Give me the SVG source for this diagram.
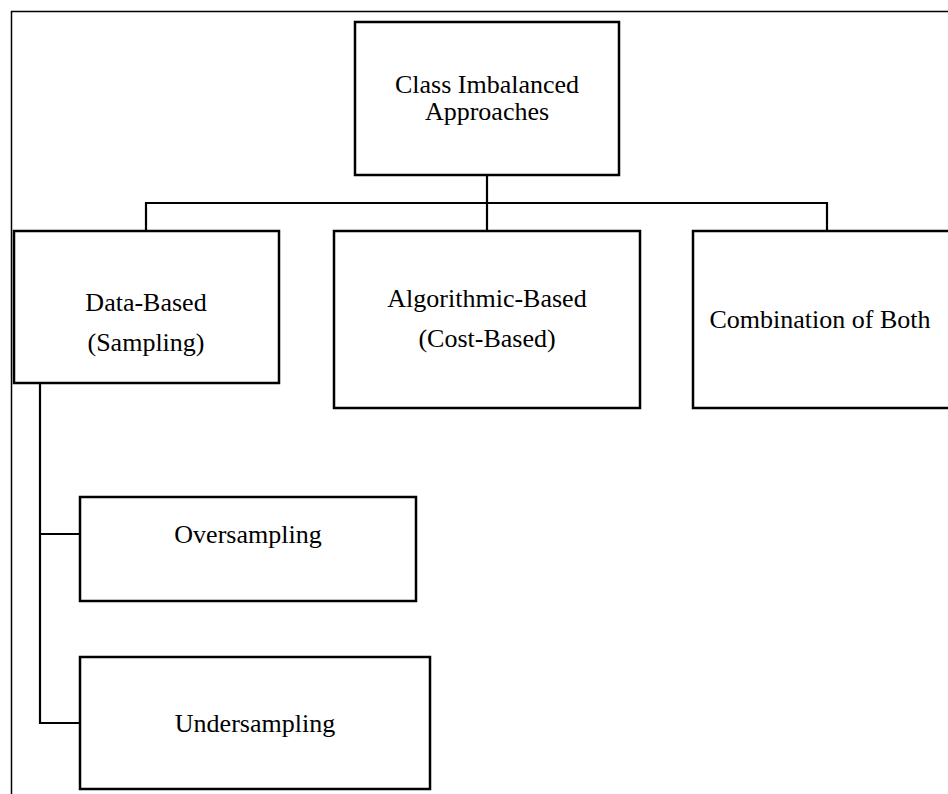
<svg xmlns="http://www.w3.org/2000/svg" width="948" height="794" viewBox="0 0 948 794">
<style>
.box{fill:#fff;stroke:#000;stroke-width:2.5}
.con{fill:none;stroke:#000;stroke-width:2.2}
text{font-family:"Liberation Serif","Times New Roman",serif;font-size:26px;fill:#000;text-anchor:middle}
</style>
<rect x="0" y="0" width="948" height="794" fill="#fff"/>
<path d="M11.5 800 V11.5 H960" fill="none" stroke="#000" stroke-width="1.5"/>
<g id="connectors">
<path class="con" d="M487 175 V231"/>
<path class="con" d="M146 231 V203 H827 V231"/>
<path class="con" d="M40 383 V723 H80"/>
<path class="con" d="M40 534 H80"/>
</g>
<g id="root"><rect class="box" x="355" y="22" width="264" height="153" stroke-width="3"/><text x="487" y="93">Class Imbalanced</text><text x="487" y="120">Approaches</text></g>
<g id="data"><rect class="box" x="14" y="231" width="265" height="152" stroke-width="3"/><text x="146" y="311">Data-Based</text><text x="146" y="351">(Sampling)</text></g>
<g id="algo"><rect class="box" x="334" y="231" width="306" height="177"/><text x="487" y="307">Algorithmic-Based</text><text x="487" y="347">(Cost-Based)</text></g>
<g id="both"><rect class="box" x="693" y="231" width="270" height="177"/><text x="820" y="328">Combination of Both</text></g>
<g id="over"><rect class="box" x="80" y="497" width="336" height="104"/><text x="248" y="543">Oversampling</text></g>
<g id="under"><rect class="box" x="80" y="657" width="350" height="132"/><text x="255" y="732">Undersampling</text></g>
</svg>
